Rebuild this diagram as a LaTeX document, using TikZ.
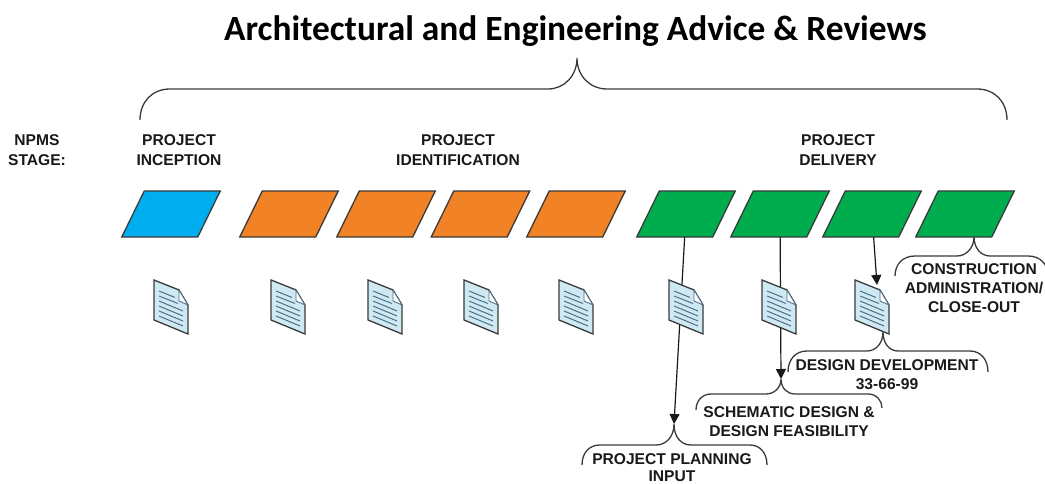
\documentclass[tikz,border=0pt]{standalone}
\usepackage{fontspec}
\setmainfont{Liberation Sans}
\newfontfamily\titlefont{Carlito}
\usetikzlibrary{arrows.meta}
\definecolor{stageblue}{HTML}{00AEEF}
\definecolor{stageorange}{HTML}{F28226}
\definecolor{stagegreen}{HTML}{00AD4E}
\definecolor{docfill}{HTML}{CFE9F3}
\definecolor{docline}{HTML}{4F6F86}
\definecolor{inkgray}{HTML}{3A3A3A}
\tikzset{
	stage/.style={draw=inkgray, line width=1.3pt, xslant=0.49, transform shape, minimum width=76pt, minimum height=46pt, inner sep=0pt, outer sep=0pt},
	label/.style={align=center, text=black!90, inner sep=0pt, font=\fontsize{15.6}{19.5}\selectfont\bfseries},
	bracket/.style={draw=inkgray, line width=1.3pt},
	pointer/.style={draw=black!90, line width=1.2pt, -{Triangle[length=10pt,width=10pt]}},
	docicon/.pic={
		\draw[draw=inkgray, line width=1.3pt, fill=docfill] (0,0) -- (25,10) -- (34,25) -- (34,54) -- (0,40) -- cycle;
		\draw[draw=docline, line width=0.9pt, fill=white] (25,10) -- (25,21) -- (34,25) -- cycle;
		\draw[draw=docline, line width=1pt] (5,11) -- (21,17.5) (5,16) -- (24,23.5) (5,21) -- (29,31) (5,26) -- (29,36) (5,31) -- (29,41) (5,36) -- (29,46);
	}
}
\begin{document}
\begin{tikzpicture}[x=1pt, y=-1pt]

	\useasboundingbox (0,0) rectangle (1045,484);
	\clip (0,0) rectangle (1045,484);

	\node (title) at (575.5,31) {\titlefont\fontsize{35.4}{40}\selectfont\bfseries Architectural and Engineering Advice \& Reviews};

	\node[label] (npms) at (37,150) {NPMS\\STAGE:};
	\node[label] (inception) at (179,150) {PROJECT\\INCEPTION};
	\node[label] (identification) at (458,150) {PROJECT\\IDENTIFICATION};
	\node[label] (delivery) at (838,150) {PROJECT\\DELIVERY};

	\node[stage, fill=stageblue] (stageA) at (171,214) {};
	\node[stage, fill=stageorange] (stageB) at (289,214) {};
	\node[stage, fill=stageorange] (stageC) at (386,214) {};
	\node[stage, fill=stageorange] (stageD) at (480.5,214) {};
	\node[stage, fill=stageorange] (stageE) at (576,214) {};
	\node[stage, fill=stagegreen] (stageF) at (686,214) {};
	\node[stage, fill=stagegreen] (stageG) at (780,214) {};
	\node[stage, fill=stagegreen] (stageH) at (872,214) {};
	\node[stage, fill=stagegreen] (stageI) at (965,214) {};

	\coordinate (tipAll) at (577,58);
	\coordinate (tipClose) at (974,237);
	\coordinate (tipDev) at (883,332);
	\coordinate (tipSchem) at (781,379);
	\coordinate (tipPlan) at (674,424);
	\coordinate (tipDoc) at (877,285);

	\draw[pointer] (stageF) -- (tipPlan);
	\draw[pointer] (stageG) -- (tipSchem);
	\draw[pointer] (stageH) -- (tipDoc);

	\pic (docA) at (154,280) {docicon};
	\pic (docB) at (271,280) {docicon};
	\pic (docC) at (368,280) {docicon};
	\pic (docD) at (464,280) {docicon};
	\pic (docE) at (559,280) {docicon};
	\pic (docF) at (669,280) {docicon};
	\pic (docG) at (762,280) {docicon};
	\pic (docH) at (855,280) {docicon};

	\draw[bracket] (140,120) .. controls (140,102) and (152,89) .. (170,89) -- (548,89) .. controls (564,89) and (577,76) .. (tipAll) .. controls (577,76) and (590,89) .. (607,89) -- (977,89) .. controls (995,89) and (1007,102) .. (1007,120);
	\draw[bracket] (895,276) .. controls (895,264) and (903,256) .. (915,256) -- (957,256) .. controls (966,256) and (974,248) .. (tipClose) .. controls (974,248) and (981,256) .. (990,256) -- (1028,256) .. controls (1040,256) and (1048,264) .. (1048,276);
	\draw[bracket] (788,372) .. controls (788,360) and (795,351) .. (807,351) -- (867,351) .. controls (876,351) and (883,343) .. (tipDev) .. controls (883,343) and (889,351) .. (898,351) -- (970,351) .. controls (981,351) and (988,360) .. (988,372);
	\draw[bracket] (696,410) .. controls (696,401) and (702,394) .. (711,394) -- (766,394) .. controls (774,394) and (781,388) .. (tipSchem) .. controls (781,388) and (787,394) .. (795,394) -- (868,394) .. controls (877,394) and (882,401) .. (882,408);
	\draw[bracket] (582,465) .. controls (582,453) and (589,445) .. (600,445) -- (656,445) .. controls (666,445) and (674,437) .. (tipPlan) .. controls (674,437) and (681,445) .. (691,445) -- (750,445) .. controls (760,445) and (767,453) .. (767,465);

	\node[label, font=\fontsize{15.6}{19}\selectfont\bfseries] (closeout) at (974,288) {CONSTRUCTION\\ADMINISTRATION/\\CLOSE-OUT};
	\node[label] (development) at (887,374.5) {DESIGN DEVELOPMENT\\33-66-99};
	\node[label] (schematic) at (789,421.5) {SCHEMATIC DESIGN \&\\DESIGN FEASIBILITY};
	\node[label, font=\fontsize{15.6}{17}\selectfont\bfseries] (planning) at (672,468) {PROJECT PLANNING\\INPUT};

\end{tikzpicture}
\end{document}
